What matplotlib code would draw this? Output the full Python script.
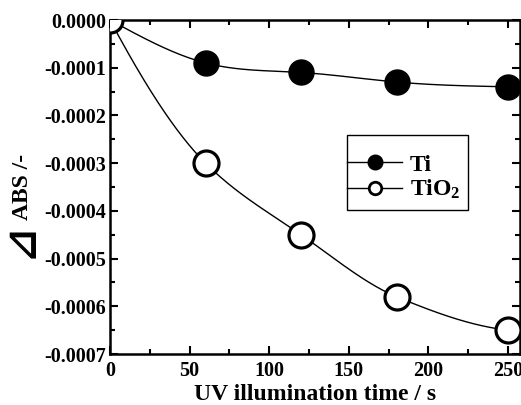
import numpy as np
import matplotlib
matplotlib.use("Agg")
import matplotlib.pyplot as plt
from matplotlib.ticker import MultipleLocator, FormatStrFormatter
from matplotlib.patches import Rectangle

# ---- data ----
time_s = [0, 60, 120, 180, 250]
ti_abs = [0.0, -0.000090, -0.000110, -0.000130, -0.000140]
tio2_abs = [0.0, -0.000300, -0.000450, -0.000580, -0.000650]
series_labels = ["Ti", "TiO$_\\mathbf{2}$"]
xlabel = "UV illumination time / s"
ylabel = "ABS /-"


def natural_spline(x, y, n=400):
    x = np.asarray(x, float); y = np.asarray(y, float)
    k = len(x); h = np.diff(x)
    A = np.zeros((k, k)); b = np.zeros(k)
    A[0, 0] = 1; A[-1, -1] = 1
    for i in range(1, k - 1):
        A[i, i - 1] = h[i - 1]; A[i, i] = 2 * (h[i - 1] + h[i]); A[i, i + 1] = h[i]
        b[i] = 3 * ((y[i + 1] - y[i]) / h[i] - (y[i] - y[i - 1]) / h[i - 1])
    c = np.linalg.solve(A, b)
    xs = np.linspace(x[0], x[-1], n); ys = np.empty_like(xs)
    for j, t in enumerate(xs):
        i = min(np.searchsorted(x, t, side="right") - 1, k - 2)
        bb = (y[i + 1] - y[i]) / h[i] - h[i] * (2 * c[i] + c[i + 1]) / 3
        d = (c[i + 1] - c[i]) / (3 * h[i])
        dx = t - x[i]
        ys[j] = y[i] + bb * dx + c[i] * dx ** 2 + d * dx ** 3
    return xs, ys


def pchip(x, y, n=400):
    x = np.asarray(x, float); y = np.asarray(y, float)
    h = np.diff(x); d = np.diff(y) / h; k = len(x)
    m = np.zeros(k)
    for i in range(1, k - 1):
        if d[i - 1] * d[i] > 0:
            w1 = 2 * h[i] + h[i - 1]; w2 = h[i] + 2 * h[i - 1]
            m[i] = (w1 + w2) / (w1 / d[i - 1] + w2 / d[i])
    def endslope(h0, h1, d0, d1):
        s = ((2 * h0 + h1) * d0 - h0 * d1) / (h0 + h1)
        if np.sign(s) != np.sign(d0):
            s = 0
        elif np.sign(d0) != np.sign(d1) and abs(s) > abs(3 * d0):
            s = 3 * d0
        return s
    m[0] = endslope(h[0], h[1], d[0], d[1])
    m[-1] = endslope(h[-1], h[-2], d[-1], d[-2])
    xs = np.linspace(x[0], x[-1], n); ys = np.empty_like(xs)
    for j, t in enumerate(xs):
        i = min(np.searchsorted(x, t, side="right") - 1, k - 2)
        s = (t - x[i]) / h[i]
        h00 = 2 * s**3 - 3 * s**2 + 1; h10 = s**3 - 2 * s**2 + s
        h01 = -2 * s**3 + 3 * s**2; h11 = s**3 - s**2
        ys[j] = h00 * y[i] + h10 * h[i] * m[i] + h01 * y[i + 1] + h11 * h[i] * m[i + 1]
    return xs, ys


plt.rcParams["font.family"] = ["Liberation Serif", "DejaVu Sans"]
plt.rcParams["font.weight"] = "bold"
plt.rcParams["mathtext.fontset"] = "custom"
plt.rcParams["mathtext.rm"] = "Liberation Serif:bold"
plt.rcParams["mathtext.bf"] = "Liberation Serif:bold"
plt.rcParams["mathtext.it"] = "Liberation Serif:bold"

W, H = 521, 405
fig = plt.figure(figsize=(W / 100, H / 100), dpi=100)
ax = fig.add_axes([110 / W, 1 - 354 / H, 410 / W, 334 / H])

xs, ys = natural_spline(time_s, ti_abs)
ax.plot(xs, ys, color="black", lw=1.0, zorder=2)
xs, ys = pchip(time_s, tio2_abs)
ax.plot(xs, ys, color="black", lw=1.0, zorder=2)

ax.plot(time_s, ti_abs, ls="none", marker="o", ms=18, mfc="black", mec="black", zorder=3)
ax.plot(time_s, tio2_abs, ls="none", marker="o", ms=18, mfc="white", mec="black", mew=2.3, zorder=4)

# legend: manual frame + frameless legend
def px2ax(px, py):
    return ((px - 110) / 410, (354 - py) / 334)

x0, y0 = px2ax(347, 210)
x1, y1 = px2ax(468, 135)
ax.add_patch(Rectangle((x0, y0), x1 - x0, y1 - y0, transform=ax.transAxes,
                       fill=True, facecolor="white", edgecolor="black", lw=1.0, zorder=5))
h1, = ax.plot([], [], color="black", lw=1.0, marker="o", ms=10.5, mfc="black", mec="black")
h2, = ax.plot([], [], color="black", lw=1.0, marker="o", ms=9, mfc="white", mec="black", mew=2.0)
lx, ly = px2ax(347, 154)
leg = ax.legend([h1, h2], series_labels, loc="upper left",
                bbox_to_anchor=(lx, ly),
                prop={"family": "Liberation Serif", "weight": "bold", "size": 17},
                frameon=False, handlelength=2.35, handletextpad=0.3, borderpad=0,
                labelspacing=0.1, borderaxespad=0)
leg.set_zorder(6)

ax.set_xlim(0, 257.5)
ax.set_ylim(-0.0007, 0.0)
ax.xaxis.set_major_locator(MultipleLocator(50))
ax.xaxis.set_minor_locator(MultipleLocator(25))
ax.yaxis.set_major_locator(MultipleLocator(0.0001))
ax.yaxis.set_minor_locator(MultipleLocator(0.00005))
ax.yaxis.set_major_formatter(FormatStrFormatter("%.4f"))
ax.tick_params(which="both", direction="in", top=True, right=True, width=1.5)
ax.tick_params(which="major", length=6, labelsize=14.5)
ax.tick_params(which="minor", length=3.5)
ax.tick_params(axis="x", pad=5)
ax.tick_params(axis="y", pad=3)
for lab in ax.get_xticklabels() + ax.get_yticklabels():
    lab.set_fontweight("bold")
for s in ax.spines.values():
    s.set_linewidth(1.8)

ax.set_xlabel(xlabel, fontsize=17, fontweight="bold", labelpad=2)
fig.text(23 / W, 1 - 187 / H, ylabel, rotation=90, ha="center", va="center",
         fontsize=17, fontweight="bold", family="Liberation Serif")
fig.text(21 / W, 1 - 241 / H, "\u22bf", rotation=90, ha="center", va="center",
         fontsize=30, fontweight="bold", family="DejaVu Sans")

fig.savefig("out.png", dpi=100)
